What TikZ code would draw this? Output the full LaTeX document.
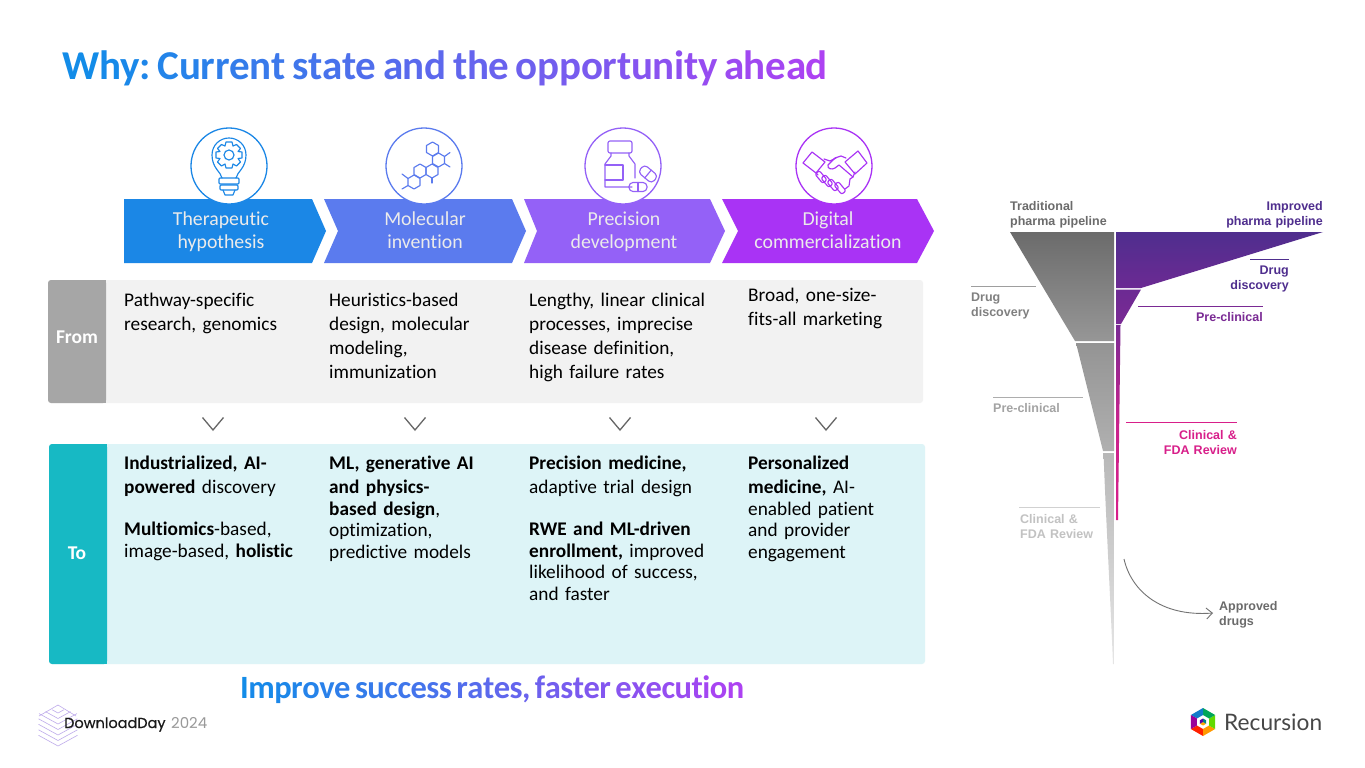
\documentclass[tikz,border=0pt]{standalone}
\usepackage{fontspec}
\usetikzlibrary{arrows.meta,calc}
\setmainfont{Carlito}[Ligatures=NoCommon]
\newfontfamily\lab{Liberation Sans}
\newfontfamily\pop{Poppins}
\newfontfamily\popm{Poppins}[FakeBold=0.35]
\newfontfamily\lato{Lato}
\definecolor{gA}{HTML}{0E8EE8}
\definecolor{gB}{HTML}{A844F2}
\definecolor{chA}{HTML}{1B87E6}
\definecolor{chB}{HTML}{5B7BEE}
\definecolor{chC}{HTML}{9461F7}
\definecolor{chD}{HTML}{A933F5}
\definecolor{impd}{HTML}{4F2E8E}
\definecolor{pre}{HTML}{7A2A94}
\definecolor{cli}{HTML}{D81F8A}
\definecolor{toBg}{HTML}{DDF4F7}
\definecolor{toTag}{HTML}{17B9C4}
\newcount\gcnt
\newcount\gtot
\newcount\gpct
\newdimen\gkern
\makeatletter
\newcommand{\gradword}[1]{\@tfor\gch:=#1\do{\global\advance\gcnt by 1
  \gpct=\numexpr 100*\gcnt/\gtot\relax\textcolor{gB!\the\gpct!gA}{\gch}\kern\gkern}}
\makeatother
\tikzset{
  chevtext/.style={font=\fontsize{19.8}{23}\selectfont,text=white!92!black,align=center,inner sep=0,anchor=base,text width=190},
  ring/.style={fill=white,line width=1.3},
  panel/.style={rounded corners=3,draw=none},
  tag/.style={font=\fontsize{19.5}{22}\selectfont\bfseries,text=white,inner sep=0},
  body/.style={font=\fontsize{19.3}{24}\selectfont,inner sep=0,anchor=base west,text width=195,align=left,text=black},
  bodyb/.style={body,font=\fontsize{19.3}{21.6}\selectfont},
  vee/.style={draw=black!60,line width=1.3},
  lblL/.style={font=\lab\bfseries\fontsize{12.5}{15}\selectfont,inner sep=0,anchor=base west,text width=130,align=left},
  lblR/.style={font=\lab\bfseries\fontsize{12.5}{15}\selectfont,inner sep=0,anchor=base east,text width=130,align=right},
  icon/.style={line width=1.15,line join=round,line cap=round},
}
\begin{document}
\begin{tikzpicture}[x=1pt,y=-1pt]
\useasboundingbox[fill=white] (0,0) rectangle (1365,768);
% title
\gcnt=0 \gtot=37 \gkern=-0.3pt
\node[inner sep=0,anchor=base west,font=\fontsize{41}{44}\selectfont\bfseries] (title) at (62,80)
 {\gradword{Why:}\hspace{6.8pt}\gradword{Current}\hspace{6.8pt}\gradword{state}\hspace{6.8pt}\gradword{and}\hspace{6.8pt}\gradword{the}\hspace{6.8pt}\gradword{opportunity}\hspace{6.8pt}\gradword{ahead}};
% chevrons
\fill[chA] (124,199)--(312,199)--(326,231)--(312,263)--(124,263)--cycle;
\fill[chB] (324,199)--(512,199)--(526,231)--(512,263)--(324,263)--(338,231)--cycle;
\fill[chC] (524,199)--(710,199)--(725,231)--(710,263)--(524,263)--(537,231)--cycle;
\fill[chD] (722,199)--(917,199)--(934,231)--(917,263)--(722,263)--(738,231)--cycle;
\node[chevtext] (c1) at (221,225.5) {Therapeutic\\hypothesis};
\node[chevtext] (c2) at (425,225.5) {Molecular\\invention};
\node[chevtext] (c3) at (624,225.5) {Precision\\development};
\node[chevtext] (c4) at (828,225.5) {Digital\\commercialization};
% rings
\draw[ring,draw=chA] (229,166) circle (38);
\draw[ring,draw=chB] (424,166) circle (38);
\draw[ring,draw=chC] (623,166) circle (38);
\draw[ring,draw=chD] (834,166) circle (38);
% bulb
\begin{scope}[icon,draw=chA]
\draw (222,178) .. controls (221,172) and (212,168) .. (212,155) .. controls (212,145) and (220,138) .. (229,138) .. controls (238,138) and (246,145) .. (246,155) .. controls (246,168) and (237,172) .. (236,178);
\draw[rounded corners=1] (219,178) rectangle (239,184);
\draw[rounded corners=1] (220,185) rectangle (238,190);
\draw (223,190) -- (225,195) -- (233,195) -- (235,190);
\draw (229,155) circle (5);
\draw plot[smooth cycle,tension=0] coordinates {
 (226,142)(232,142)(233,146)(236.5,144.5)(240.5,148.5)(238,151.5)(242,152)(242,158)(238,158.5)(240.5,162)(236.5,166)(233,164)(232,168)(226,168)(225,164)(221.5,166)(217.5,162)(220,158.5)(216,158)(216,152)(220,151.5)(217.5,148.5)(221.5,144.5)(225,146)};
\end{scope}
% molecule
\begin{scope}[icon,draw=chB]
\foreach \cx/\cy in {432.5/149,438.5/160,432/171,420/171,414/182}
  \draw (\cx,\cy-7) -- ++(6,3.5) -- ++(0,7) -- ++(-6,3.5) -- ++(-6,-3.5) -- ++(0,-7) -- cycle;
\draw (444.5,156.5) -- (450,152.5);
\draw (444.5,163.5) -- (450,167);
\draw (432,178) -- (432,183);
\draw (408,178.5) -- (402,174);
\draw (408,185.5) -- (402,189);
\end{scope}
% bottle
\begin{scope}[icon,draw=chC]
\draw[rounded corners=2] (608,141) rectangle (632,153);
\draw (611,153) -- (611,156) -- (605,164) -- (605,187) -- (632,187);
\draw (629,153) -- (629,156) -- (635,164) -- (635,178);
\draw (605,165) -- (623,165) -- (623,180) -- (605,180);
\begin{scope}[shift={(648,174)},rotate=-40]
 \draw[rounded corners=4] (-9,-5) rectangle (9,5);
 \draw (0,-5) -- (0,5);
\end{scope}
\draw[rounded corners=4] (629,182.5) rectangle (647,191.5);
\draw (638,182.5) -- (638,191.5);
\end{scope}
% handshake
\begin{scope}[icon,draw=chD]
\draw (803,163) -- (812,152) -- (825,162) -- (816,173) -- cycle;
\draw (858,151) -- (867,163) -- (855,174) -- (845,162) -- cycle;
\draw (824,159) -- (830,161) -- (836,158);
\draw (846,158) -- (841,156) -- (835,158) -- (828,165) .. controls (827,169) and (832,170) .. (835,168) -- (839,165) -- (853,177);
\draw (855,172) -- (853,177) -- (850,179);
\draw (816,173) -- (818,175);
\foreach \fx/\fy in {821/177,827/181,833/185,840/188}{
  \begin{scope}[shift={(\fx,\fy)},rotate=-50]
  \draw[rounded corners=2] (-6,-2.8) rectangle (6,2.8);
  \end{scope}}
\draw (845,189) -- (849,186) -- (850,179);
\end{scope}
% panels
\fill[panel,fill=black!5] (48,280) rectangle (923,403);
\fill[panel,fill=black!35] (48,280) rectangle (106,403);
\fill[black!35] (96,280) rectangle (106,403);
\fill[panel,fill=toBg] (49,444) rectangle (925,664);
\fill[panel,fill=toTag] (49,444) rectangle (107,664);
\fill[toTag] (97,444) rectangle (107,664);
\node[tag] (from) at (77,337) {From};
\node[tag] (to) at (77,553) {To};
% from text
\node[body] (f1) at (124,306.5) {Pathway-specific\\research, genomics};
\node[body] (f2) at (329,306.5) {Heuristics-based\\design, molecular\\modeling,\\immunization};
\node[body] (f3) at (529,306.5) {Lengthy, linear clinical\\processes, imprecise\\disease definition,\\high failure rates};
\node[body] (f4) at (748,301.5) {Broad, one-size-\\fits-all marketing};
% vees
\foreach \vx in {213,415,620,826}
  \draw[vee] (\vx-10.5,417.5) -- (\vx,430) -- (\vx+10.5,417.5);
% to text
\node[bodyb] (t1) at (124,469.5) {\textbf{Industrialized, AI-}\\[2.4pt]\textbf{powered} discovery};
\node[bodyb] (t1b) at (124,535.5) {\textbf{Multiomics}-based,\\image-based, \textbf{holistic}};
\node[bodyb] (t2) at (329,469.5) {\textbf{ML, generative AI}\\[2.4pt]\textbf{and physics-}\\\textbf{based design},\\optimization,\\predictive models};
\node[bodyb] (t3) at (529,469.5) {\textbf{Precision medicine,}\\[2.4pt]adaptive trial design};
\node[bodyb] (t3b) at (529,535.5) {\textbf{RWE and ML-driven}\\\textbf{enrollment,} improved\\likelihood of success,\\and faster};
\node[bodyb] (t4) at (748,469.5) {\textbf{Personalized}\\[2.4pt]\textbf{medicine,} AI-\\enabled patient\\and provider\\engagement};
% improve
\gcnt=0 \gtot=34 \gkern=-0.5pt
\node[inner sep=0,anchor=base west,font=\fontsize{32.5}{36}\selectfont\bfseries] (imp) at (240,698)
 {\gradword{Improve}\hspace{5pt}\gradword{success}\hspace{5pt}\gradword{rates,}\hspace{5pt}\gradword{faster}\hspace{5pt}\gradword{execution}};
% funnel left
\shade[top color=black!58,bottom color=black!41] (1010,232)--(1114,232)--(1114,341)--(1075,341)--cycle;
\shade[top color=black!42,bottom color=black!31] (1076,343)--(1114,343)--(1114,451)--(1103,451)--cycle;
\shade[top color=black!28,bottom color=black!10] (1103.5,453)--(1114,453)--(1114,664)--(1113,664) .. controls (1110,590) and (1106,520) .. (1103.5,453)--cycle;
% funnel right
\shade[top color=impd,bottom color={rgb,255:red,108;green,42;blue,147}] (1116,232)--(1323,232)--(1141,288)--(1116,288)--cycle;
\shade[top color={rgb,255:red,108;green,42;blue,147},bottom color=pre] (1116,289.5)--(1141,289.5)--(1121,324)--(1116,324)--cycle;
\shade[top color=pre,bottom color=cli,middle color={rgb,255:red,200;green,35;blue,140}] (1116,325)--(1120.5,325)--(1118,520)--(1116,520)--cycle;
% funnel labels left
\node[lblL,text=black!58] (tp) at (1010,210) {Traditional\\pharma pipeline};
\node[lblR,text=impd] (ip) at (1323,210) {Improved\\pharma pipeline};
\coordinate (a1) at (971,286); \coordinate (a2) at (1036,286);
\draw[black!38,line width=0.8] (a1) -- (a2);
\node[lblL,text=black!50] (dl) at (971,301) {Drug\\discovery};
\coordinate (b1) at (993,397); \coordinate (b2) at (1083,397);
\draw[black!32,line width=0.8] (b1) -- (b2);
\node[lblL,text=black!36] (pl) at (993,412) {Pre-clinical};
\coordinate (d1) at (1019,507.5); \coordinate (d2) at (1100,507.5);
\draw[black!18,line width=0.9] (d1) -- (d2);
\node[lblL,text=black!24] (cl) at (1020,523) {Clinical \&\\FDA Review};
% funnel labels right
\coordinate (e1) at (1250,259); \coordinate (e2) at (1289,259);
\draw[impd,line width=0.8] (e1) -- (e2);
\node[lblR,text=impd] (dr) at (1289,274) {Drug\\discovery};
\coordinate (g1) at (1138,306); \coordinate (g2) at (1263,306);
\draw[pre,line width=0.8] (g1) -- (g2);
\node[lblR,text=pre] (pr) at (1263,321) {Pre-clinical};
\coordinate (h1) at (1126,422); \coordinate (h2) at (1237,422);
\draw[cli,line width=0.8] (h1) -- (h2);
\node[lblR,text=cli] (cr) at (1237,439) {Clinical \&\\FDA Review};
% approved arrow
\node[lblL,text=black!58] (ap) at (1219,610) {Approved\\drugs};
\coordinate (r1) at (1124,559);
\coordinate (r2) at (1213,613);
\draw[black!55,line width=0.9,-{Straight Barb[length=6,width=11]}] (r1) .. controls (1131,590) and (1160,617) .. (r2);
% download day logo
\begin{scope}[draw={rgb,255:red,190;green,170;blue,235},line width=0.6]
\foreach \k in {0,1,2,3,4,5,6}{
  \pgfmathsetmacro\yy{703+\k*5.5}
  \pgfmathsetmacro\hw{min(6+\k*6.5,19.5)}
  \pgfmathsetmacro\hh{\hw*0.55}
  \draw (58-\hw,\yy+10-\hh) -- (58,\yy+10) -- (58+\hw,\yy+10-\hh);
}
\draw (39,716) -- (58,705) -- (76,716);
\end{scope}
\node[inner sep=0,anchor=base west,font=\popm\fontsize{14.5}{18}\selectfont,text=black!90] (dd) at (64,728) {DownloadDay};
\node[inner sep=0,anchor=base west,font=\pop\fontsize{15}{18}\selectfont,text=black!40] (yr) at (171,728) {2024};
% recursion logo
\begin{scope}[shift={(1203,722)}]
\fill[red!75!orange] (150:14)--(90:14)--(90:7)--(150:7)--cycle;
\fill[orange!80!yellow] (90:14)--(30:14)--(30:7)--(90:7)--cycle;
\fill[green!55!yellow!85!black] (30:14)--(-30:14)--(-30:7)--(30:7)--cycle;
\fill[teal!70!green] (-30:14)--(-90:14)--(-90:7)--(-30:7)--cycle;
\fill[cyan!60!blue] (-90:14)--(-150:14)--(-150:7)--(-90:7)--cycle;
\fill[violet!80!magenta] (-150:14)--(150:14)--(150:7)--(-150:7)--cycle;
\fill[orange!70!yellow] (0,0)--(150:3.5)--(90:3.5)--(30:3.5)--cycle;
\fill[violet!70!blue] (0,0)--(150:3.5)--(-150:3.5)--(-90:3.5)--cycle;
\fill[teal] (0,0)--(30:3.5)--(-30:3.5)--(-90:3.5)--cycle;
\end{scope}
\node[inner sep=0,anchor=base west,font=\lato\fontsize{22.7}{28}\selectfont,text=black!72] (rc) at (1224,730) {Recursion};
\end{tikzpicture}
\end{document}
